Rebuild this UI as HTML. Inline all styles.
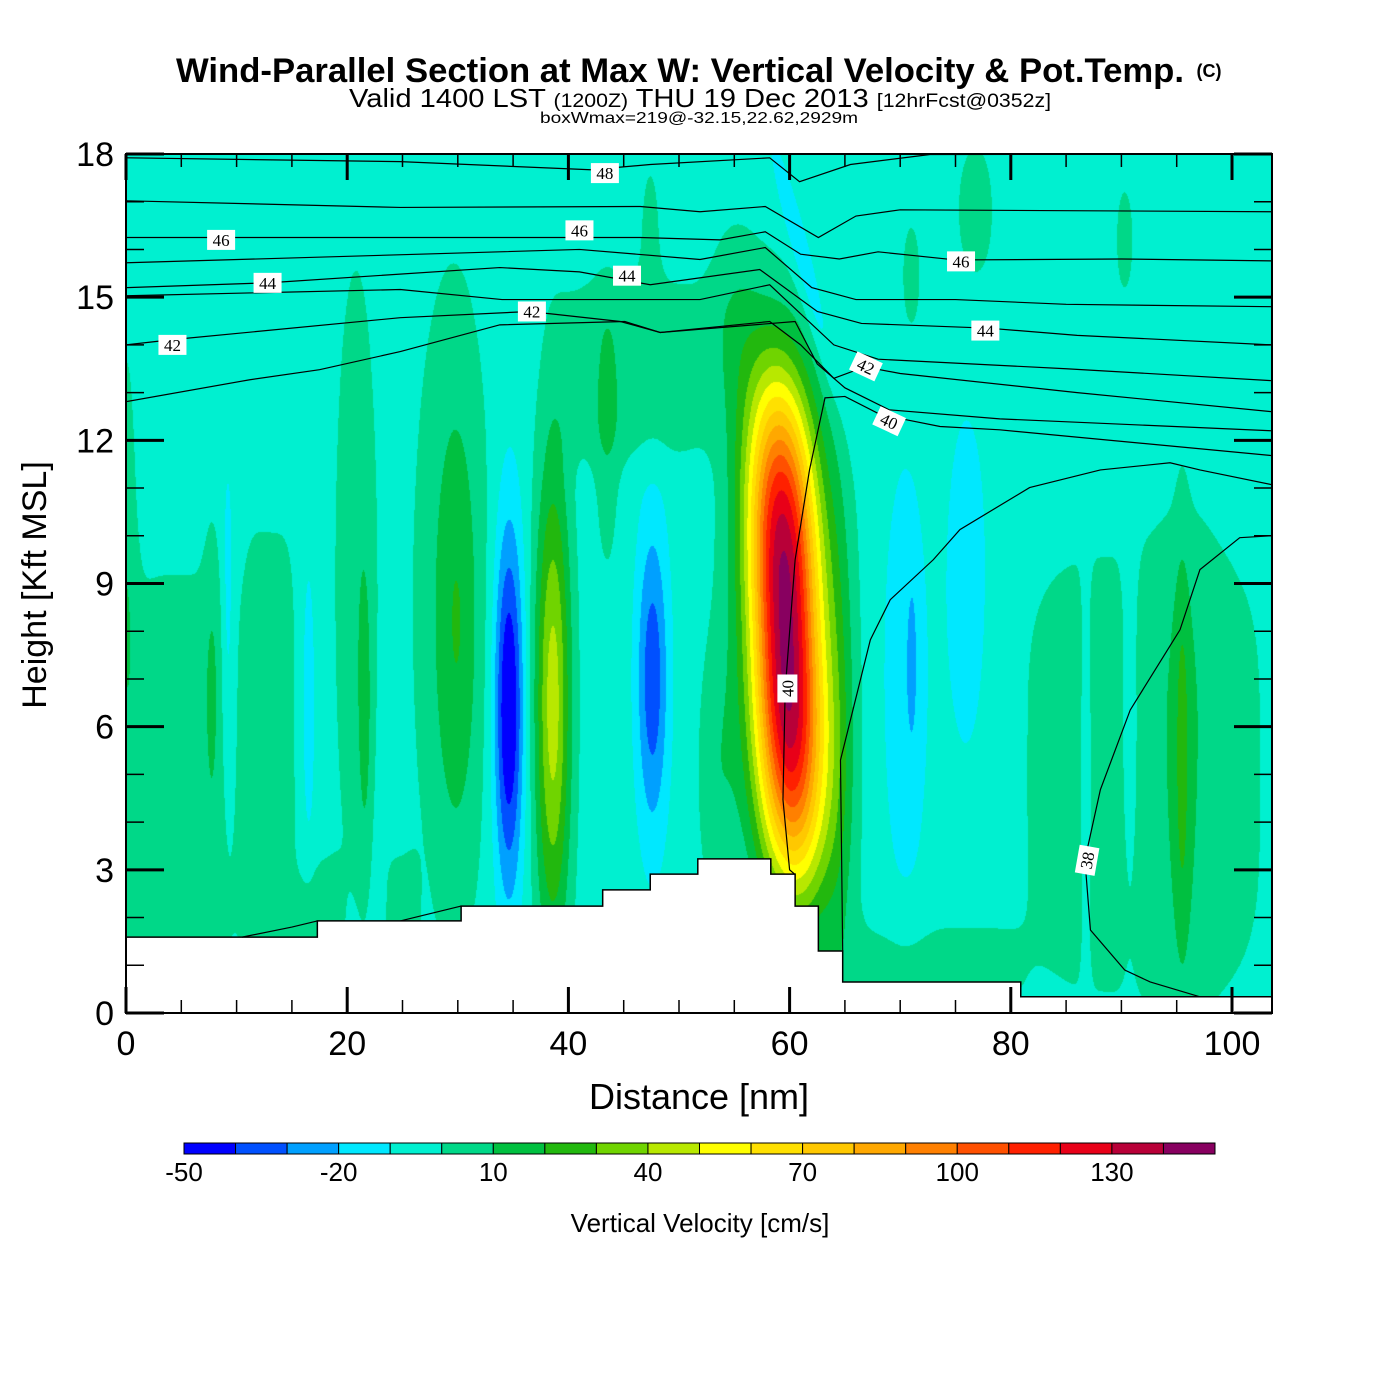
<!DOCTYPE html>
<html><head><meta charset="utf-8">
<style>
html,body{margin:0;padding:0;background:#fff;}
#wrap{position:relative;width:1400px;height:1400px;overflow:hidden;}
canvas{position:absolute;left:0;top:0;}
svg{position:absolute;left:0;top:0;}
text{font-family:"Liberation Sans",sans-serif;}
.nar{font-family:"Liberation Sans Narrow","Liberation Sans",sans-serif;}
.clab{font-family:"Liberation Serif",serif;font-size:17px;}
</style></head>
<body>
<div id="wrap">
<canvas id="cv" width="1400" height="1400"></canvas>
<svg id="sv" width="1400" height="1400">
  <text class="nar" x="680" y="82" text-anchor="middle" font-size="34" font-weight="bold" textLength="1008" lengthAdjust="spacingAndGlyphs">Wind-Parallel Section at Max W: Vertical Velocity &amp; Pot.Temp.</text>
  <text class="nar" x="1209" y="77" text-anchor="middle" font-size="18" font-weight="bold">(C)</text>
  <text class="nar" x="700" y="107" text-anchor="middle" font-size="26" textLength="702" lengthAdjust="spacingAndGlyphs">Valid 1400 LST <tspan font-size="19">(1200Z)</tspan> THU 19 Dec 2013 <tspan font-size="19">[12hrFcst@0352z]</tspan></text>
  <text class="nar" x="699" y="123" text-anchor="middle" font-size="16" textLength="318" lengthAdjust="spacingAndGlyphs">boxWmax=219@-32.15,22.62,2929m</text>
  <g id="terrain"></g>
  <g id="contours"></g>
  <g id="clabels"></g>
  <g id="axes"></g>
  <text x="699" y="1109" text-anchor="middle" font-size="36">Distance [nm]</text>
  <text x="0" y="0" transform="translate(46,585) rotate(-90)" text-anchor="middle" font-size="34">Height [Kft MSL]</text>
  <g id="cbar"></g>
  <text x="700" y="1232" text-anchor="middle" font-size="26">Vertical Velocity [cm/s]</text>
</svg>
</div>
<script>
// ---- data ----
const levels = [-50,-40,-30,-20,-10,0,10,20,30,40,50,60,70,80,90,100,110,120,130,140,150];
const colors = ["#0000ff","#0050ff","#00a0ff","#00e8ff","#00f0d0","#00d888","#00c040","#22b80e","#70d400","#b8e800","#ffff00","#ffe000","#ffc800","#ffa800","#ff8000","#ff5000","#ff2000","#e80018","#b80038","#880060"];
const cbarLabels = [-50,-20,10,40,70,100,130];
const baseW = -5;
// W features: center distance (nm), center height (kft), amplitude (cm/s), x-scale (nm), h-scale (kft), tilt (nm/kft), x-exponent, h-exponent
const featX   = [5,   0,  7.8, 13,  17.5,20.8,21.6,29.5,30, 34.6,38.6,46,  43.5,47.6,53.5,55, 59.7,64.5,70.5,76, 71.1,92,  86.8,90.8,95.6,95.5,72.5,71, 76.8,90.3,47.4,61.5,9.2, 16.5,25];
const featH   = [4.8, 9,  7,   5.5, 1.5, 9,   6.3, 8.5, 8,  6.4, 6.5, 13.5,12,  7,   5,   14.5,8,   6,   7,   9,  7.4, 5,   5,   6,   6,   5.3, 0.8, 15.4,16.8,16.2,16, 15.5,8,   6.5, 1.5];
const featAmp = [10,  12, 8,   10,  10,  12,  14,  16,  10, -48, 50,  10,  10,  -32, 12,  12,  150, 14,  -13, -13,-9,  10,  -10, -10, 6,   14,  10,  9,   10,  9,   9,  -13, -12, -9,  10];
const featSx  = [5.5, 1,  0.8, 2.5, 2,   2.0, 0.55,3.3, 1.6,1.3, 1.6, 7,   1.2, 1.4, 1.8, 2.5, 3.3, 1.6, 2.0, 1.8,0.4, 11.5,0.5, 0.8, 3.2, 0.7, 8,   1.0, 1.8, 0.9, 1.0,1.0, 0.6, 0.7, 1.5];
const featSh  = [4.8, 5,  3.5, 5,   1.8, 7,   2.8, 6.5, 4.2,3.8, 5,   2,   3,   3.2, 3,   2,   5.2, 6,   4.5, 3.5,1.6, 5,   4,   4,   5.5, 4.5, 1.2, 1.4, 1.6, 1.3, 2.0,2.8, 3.5, 3.5, 1.8];
const featTilt= [0,   0,  0,   0,   0,   0,   0,   0,   0,  0,   0,   0,   0,   0,   0,   0,   -0.15,0,  0,   0,  0,   0,   0,   0,   0,   0,   0,   0,   0,   0,   0,  -1.1,0,   0,   0];
const featPx  = [4,   2,  2,   4,   4,   2,   2,   2,   2,  2,   2,   4,   2,   2,   2,   2,   2,   2,   2,   2,  2,   4,   2,   2,   2,   2,   4,   2,   2,   2,   2,  2,   2,   2,   4];
const featPh  = [4,   2,  2,   4,   4,   2,   2,   2,   2,  2,   2,   4,   2,   2,   2,   2,   3,   2,   2,   2,  2,   4,   2,   2,   2,   2,   2,   2,   2,   2,   2,  2,   2,   2,   4];
// terrain (nm, kft)
const terrX = [0,17.3,17.3,30.3,30.3,43.1,43.1,47.4,47.4,51.7,51.7,58.3,58.3,60.5,60.5,62.6,62.6,64.8,64.8,80.9,80.9,103.6];
const terrH = [1.59,1.59,1.93,1.93,2.24,2.24,2.58,2.58,2.91,2.91,3.23,3.23,2.91,2.91,2.24,2.24,1.30,1.30,0.65,0.65,0.34,0.34];
// potential temperature contours (nm, kft)
const thetaLines = [
 [[0,17.92],[24.8,17.84],[42,17.67],[47.4,17.78],[58.2,17.92],[60.9,17.42],[65.5,17.78],[72.7,17.99],[103.6,18.0]],
 [[0,17.02],[24.8,16.88],[46.5,16.9],[51.9,16.79],[57.8,16.9],[62.6,16.25],[66,16.7],[70,16.83],[103.6,16.79]],
 [[0,16.25],[46.5,16.25],[53.7,16.2],[57.8,16.37],[61,15.9],[64.5,15.8],[68,15.95],[75,15.78],[90,15.8],[103.6,15.76]],
 [[0,15.72],[33.8,15.95],[41,16.0],[51.9,15.79],[57.8,16.04],[62,15.2],[66,14.95],[75,14.95],[85,14.85],[103.6,14.8]],
 [[0,15.2],[12.8,15.3],[33.8,15.62],[41,15.53],[47.4,15.26],[57.3,15.58],[62.5,14.7],[66.5,14.45],[78,14.35],[86,14.2],[103.6,14.0]],
 [[0,15.03],[24.8,15.16],[34,14.95],[51.9,14.95],[58.2,15.26],[64,14.0],[68,13.7],[85,13.5],[103.6,13.25]],
 [[0,14.0],[4.2,14.11],[24.8,14.57],[36.5,14.7],[44.7,14.49],[48.3,14.26],[58.2,14.49],[61,14.0],[64,13.3],[66.8,13.54],[70,13.4],[86,13.0],[103.6,12.6]],
 [[0,12.81],[11.2,13.27],[17.5,13.48],[24.8,13.86],[33.8,14.42],[45.1,14.49],[48.3,14.26],[60.5,14.49],[62.5,13.6],[65,13.1],[69,12.64],[79,12.45],[103.6,12.2]],
 [[60.5,2.9],[60,3.0],[59.4,4.47],[59.6,6.77],[60.5,9.5],[61.8,11.38],[63.2,12.89],[65,12.92],[68.2,12.54],[73.6,12.29],[79,12.22],[103.6,11.68]],
 [[64.8,1.3],[64.6,5.3],[67.3,7.82],[69.1,8.66],[73,9.5],[75.4,10.13],[81.7,11.01],[88.1,11.38],[94.4,11.53],[97.1,11.38],[103.6,11.07]],
 [[103.6,10.0],[100.7,9.96],[97.1,9.29],[95.3,8.03],[90.8,6.35],[88.1,4.68],[86.7,3.21],[87.2,1.74],[90.3,0.9],[92.6,0.65],[97.1,0.34]],
 [[10.5,1.59],[15,1.8],[17.3,1.93]],
 [[24.8,1.93],[30.3,2.24]]
];
const labelText = ["48","46","46","46","44","44","44","42","42","42","40","40","38"];
const labelX = [43.3,8.6,41,75.5,12.8,45.3,77.7,4.2,36.7,66.9,69,59.8,86.9];
const labelH = [17.6,16.2,16.4,15.75,15.3,15.45,14.3,14.0,14.7,13.55,12.4,6.8,3.2];
const labelAng = [0,0,0,0,0,0,0,0,0,25,25,-90,-80];
const xTicks = [0,20,40,60,80,100];
const yTicks = [0,3,6,9,12,15,18];

// ---- axes ----
const PX0=126, PX1=1272, PY0=1013, PY1=154;
const X = nm => PX0 + nm*11.06;
const Y = k => PY0 - k*(PY0-PY1)/18;
const NS="http://www.w3.org/2000/svg";
function mk(tag, attrs, parent){const e=document.createElementNS(NS,tag);for(const k in attrs)e.setAttribute(k,attrs[k]);parent.appendChild(e);return e;}

// ---- field ----
function W(nm,k){
  let v=baseW;
  for(let i=0;i<featX.length;i++){
    const xc=featX[i]+featTilt[i]*(k-featH[i]);
    const dx=Math.abs((nm-xc)/featSx[i]), dh=Math.abs((k-featH[i])/featSh[i]);
    const e=Math.pow(dx,featPx[i])+Math.pow(dh,featPh[i]);
    if(e<30) v+=featAmp[i]*Math.exp(-e);
  }
  return v;
}
const rgb = colors.map(c=>[parseInt(c.slice(1,3),16),parseInt(c.slice(3,5),16),parseInt(c.slice(5,7),16)]);
(function(){
  const cv=document.getElementById('cv'), ctx=cv.getContext('2d');
  const x0=Math.round(X(0)), x1=Math.round(X(103.6)), y0=Math.round(Y(18)), y1=Math.round(Y(0));
  const w=x1-x0, h=y1-y0;
  const img=ctx.createImageData(w,h);
  for(let py=0;py<h;py++){
    const k=(PY0-(y0+py+0.5))*18/(PY0-PY1);
    for(let px=0;px<w;px++){
      const nm=(x0+px+0.5-PX0)/11.06;
      let i=Math.floor((W(nm,k)-levels[0])/10);
      if(i<0)i=0; if(i>rgb.length-1)i=rgb.length-1;
      const o=(py*w+px)*4;
      img.data[o]=rgb[i][0];img.data[o+1]=rgb[i][1];img.data[o+2]=rgb[i][2];img.data[o+3]=255;
    }
  }
  ctx.putImageData(img,x0,y0);
})();

// terrain
(function(){
  const g=document.getElementById('terrain');
  let pts=terrX.map((x,i)=>X(x)+","+Y(terrH[i])).join(" ");
  pts+=" "+X(103.6)+","+Y(0)+" "+X(0)+","+Y(0);
  const p=mk('polygon',{points:pts,fill:'#fff',stroke:'#000','stroke-width':1.5},g);
  
  
})();

// contours
(function(){
  const g=document.getElementById('contours');
  thetaLines.forEach((ln)=>{
    const p=mk('polyline',{points:ln.map(q=>X(q[0])+","+Y(q[1])).join(" "),fill:'none',stroke:'#000','stroke-width':1.2},g);
    
    
  });
  const gl=document.getElementById('clabels');
  labelText.forEach((t,i)=>{
    const gg=mk('g',{transform:`translate(${X(labelX[i])},${Y(labelH[i])}) rotate(${labelAng[i]})`},gl);
    
    
    mk('rect',{x:-14,y:-10,width:28,height:20,fill:'#fff'},gg);
    const tx=mk('text',{x:0,y:6,'text-anchor':'middle',class:'clab'},gg);
    tx.textContent=t;
  });
})();

// axes
(function(){
  const g=document.getElementById('axes');
  const fr=mk('rect',{x:PX0,y:PY1,width:PX1-PX0,height:PY0-PY1,fill:'none',stroke:'#000','stroke-width':2},g);
  
  
  for(let v=0;v<=103;v+=5){
    const major=v%20===0, L=major?26:13;
    mk('line',{x1:X(v),x2:X(v),y1:PY0,y2:PY0-L,stroke:'#000','stroke-width':major?3:1.5},g);
    mk('line',{x1:X(v),x2:X(v),y1:PY1,y2:PY1+L,stroke:'#000','stroke-width':major?3:1.5},g);
  }
  for(let v=0;v<=18;v++){
    const major=v%3===0, L=major?38:18;
    mk('line',{x1:PX0,x2:PX0+L,y1:Y(v),y2:Y(v),stroke:'#000','stroke-width':major?3:1.5},g);
    mk('line',{x1:PX1,x2:PX1-L,y1:Y(v),y2:Y(v),stroke:'#000','stroke-width':major?3:1.5},g);
  }
  xTicks.forEach(v=>{
    const t=mk('text',{x:X(v),y:1055,'text-anchor':'middle','font-size':34},g);
    
    
    t.textContent=v;
  });
  yTicks.forEach(v=>{
    const t=mk('text',{x:114,y:Y(v)+12,'text-anchor':'end','font-size':34},g);
    
    
    t.textContent=v;
  });
})();

// colorbar
(function(){
  const g=document.getElementById('cbar');
  const cx0=184, cw=(1215-184)/colors.length;
  colors.forEach((c,i)=>{
    const r=mk('rect',{x:cx0+i*cw,y:1143,width:cw,height:11,fill:c,stroke:'#000','stroke-width':1},g);
    
    
  });
  cbarLabels.forEach(v=>{
    const i=levels.indexOf(v);
    const t=mk('text',{x:cx0+i*cw,y:1181,'text-anchor':'middle','font-size':26},g);
    
    
    t.textContent=v;
  });
})();
</script>
</body></html>
